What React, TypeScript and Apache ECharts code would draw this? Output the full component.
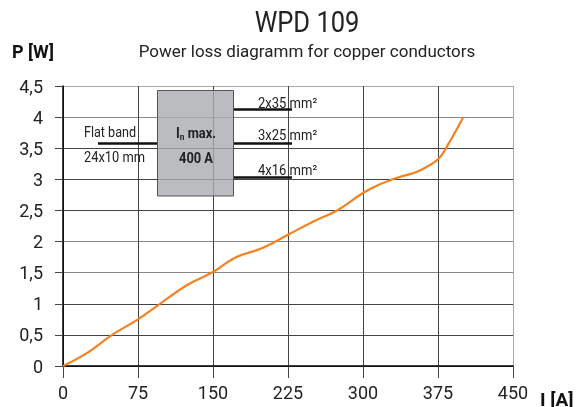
import React, { useEffect, useRef } from "react";
import * as echarts from "echarts";

const FONT = "'Liberation Sans Narrow', Roboto, sans-serif";

const currentA = [0, 25, 49, 75, 97, 125, 150, 172, 200, 225, 250, 274, 300, 317, 337, 354, 375, 384, 400];
const powerW = [0, 0.22, 0.5, 0.75, 1.0, 1.31, 1.51, 1.74, 1.9, 2.11, 2.32, 2.5, 2.78, 2.92, 3.04, 3.12, 3.32, 3.53, 3.99];
const xTicks = [0, 75, 150, 225, 300, 375, 450];
const yTicks = [0, 0.5, 1, 1.5, 2, 2.5, 3, 3.5, 4, 4.5];
const conductorLabels = ["2x35 mm²", "3x25 mm²", "4x16 mm²"];

export default function App() {
  const ref = useRef<HTMLDivElement>(null);
  useEffect(() => {
    if (!ref.current) return;
    const chart = echarts.init(ref.current, undefined, { renderer: "svg" });
    const data = currentA.map((x, i) => [x, powerW[i]]);
    const lineStyle = { stroke: "#111", lineWidth: 2.5 };
    const txt = (x: number, y: number, text: string, extra: any = {}, sx = 1) => ({
      type: "text",
      x,
      y,
      z: 10,
      scaleX: sx,
      style: { text, fontFamily: FONT, fontSize: 14, fill: "#222", textVerticalAlign: "middle", ...extra },
    });
    chart.setOption({
      animation: false,
      textStyle: { fontFamily: FONT },
      grid: { left: 63, right: 66, top: 86, bottom: 41, containLabel: false },
      xAxis: {
        type: "value",
        min: xTicks[0],
        max: xTicks[xTicks.length - 1],
        interval: 75,
        axisLine: { show: true, onZero: false, lineStyle: { color: "#000", width: 1.5 } },
        axisTick: { show: true, length: 12, lineStyle: { color: "#444" } },
        axisLabel: { fontFamily: FONT, fontSize: 18, color: "#222", margin: 17 },
        splitLine: {
          show: true,
          lineStyle: { color: ["#444", "#444", "#444", "#444", "#444", "#444", "#aaa"], width: 1 },
        },
      },
      yAxis: {
        type: "value",
        min: yTicks[0],
        max: yTicks[yTicks.length - 1],
        interval: 0.5,
        axisLine: { show: true, lineStyle: { color: "#000", width: 1.5 } },
        axisTick: { show: true, length: 8, lineStyle: { color: "#444" } },
        axisLabel: {
          fontFamily: FONT,
          fontSize: 18,
          color: "#222",
          margin: 20,
          formatter: (v: number) => String(v).replace(".", ","),
        },
        splitLine: {
          show: true,
          lineStyle: {
            color: ["#444", "#444", "#444", "#888", "#888", "#444", "#444", "#444", "#888", "#aaa"],
            width: 1,
          },
        },
      },
      series: [
        {
          type: "line",
          data,
          smooth: 0.4,
          showSymbol: false,
          lineStyle: { color: "#f58220", width: 2.2 },
          z: 5,
        },
      ],
      graphic: [
        txt(307, 22, "WPD 109", { fontSize: 30, textAlign: "center", fill: "#222" }, 0.85),
        txt(307, 51, "Power loss diagramm for copper conductors", { fontSize: 17, textAlign: "center" }, 1),
        txt(12, 51, "P [W]", { fontSize: 18, fontWeight: "bold", fill: "#111" }, 1),
        txt(540, 399, "I [A]", { fontSize: 19, fontWeight: "bold", fill: "#111" }, 1),
        {
          type: "rect",
          shape: { x: 157.5, y: 90.5, width: 76, height: 105.5 },
          style: { fill: "rgba(170,171,175,0.8)", stroke: "#555", lineWidth: 1 },
          z: 8,
        },
        { type: "line", shape: { x1: 98, y1: 143.5, x2: 157, y2: 143.5 }, style: lineStyle, z: 9 },
        { type: "line", shape: { x1: 234, y1: 109.5, x2: 292, y2: 109.5 }, style: lineStyle, z: 9 },
        { type: "line", shape: { x1: 234, y1: 143.5, x2: 292, y2: 143.5 }, style: lineStyle, z: 9 },
        { type: "line", shape: { x1: 234, y1: 177.5, x2: 292, y2: 177.5 }, style: lineStyle, z: 9 },
        txt(84, 132, "Flat band", {}, 0.9),
        txt(84, 157, "24x10 mm", {}, 0.92),
        {
          type: "text",
          x: 196,
          y: 133,
          z: 10,
          scaleX: 0.92,
          style: {
            text: "{b|I}{s|n}{b| max.}",
            textAlign: "center",
            textVerticalAlign: "middle",
            rich: {
              b: { fontFamily: FONT, fontSize: 14, fontWeight: "bold", fill: "#222" },
              s: { fontFamily: FONT, fontSize: 9, fontWeight: "bold", fill: "#222", padding: [8, 0, 0, 0] },
            },
          },
        },
        txt(196, 158, "400 A", { fontWeight: "bold", textAlign: "center" }, 0.92),
        txt(258, 103, conductorLabels[0], {}, 0.93),
        txt(258, 135, conductorLabels[1], {}, 0.93),
        txt(258, 170, conductorLabels[2], {}, 0.93),
      ],
    });
    return () => chart.dispose();
  }, []);
  return (
    <div style={{ position: "fixed", left: 0, top: 0 }}>
      <div ref={ref} style={{ width: 579, height: 407 }} />
    </div>
  );
}
